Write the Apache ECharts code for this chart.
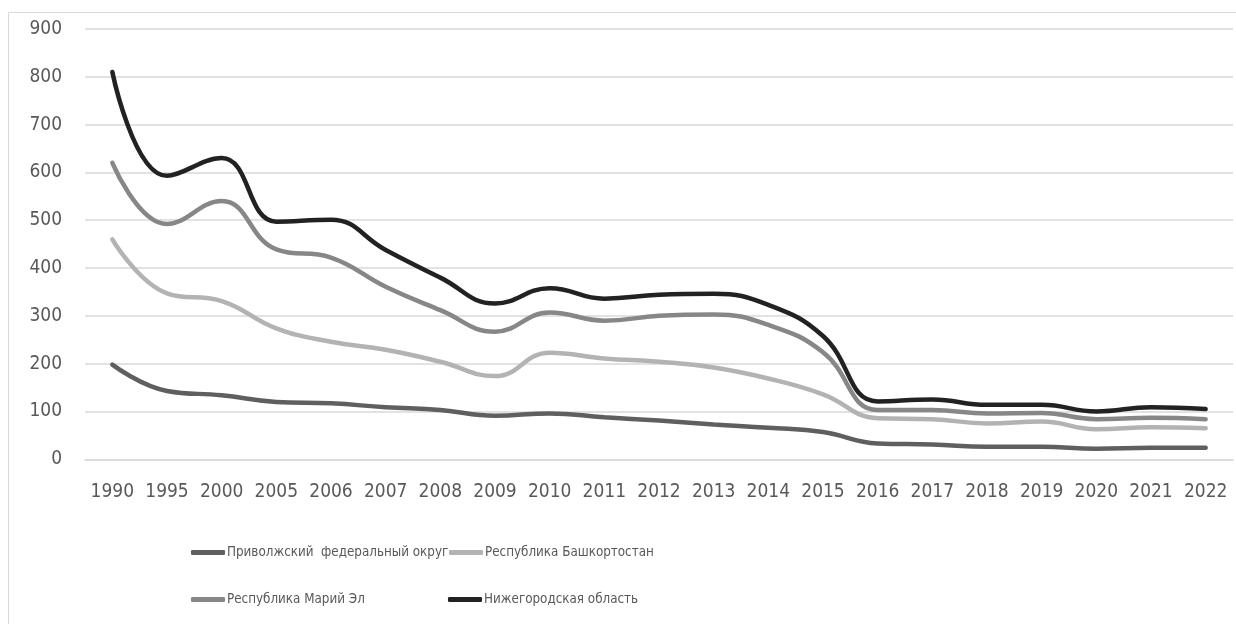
<!DOCTYPE html>
<html>
<head>
<meta charset="utf-8">
<script src="https://cdn.jsdelivr.net/npm/echarts@6/dist/echarts.min.js"></script>
<style>
  html, body { margin: 0; padding: 0; background: #fff; }
  #main { width: 1236px; height: 624px; }
</style>
</head>
<body>
<div id="main"></div>
<script>
// годы
var years = ['1990', '1995', '2000', '2005', '2006', '2007', '2008', '2009', '2010', '2011',
  '2012', '2013', '2014', '2015', '2016', '2017', '2018', '2019', '2020', '2021', '2022']
var yTicks = [0, 100, 200, 300, 400, 500, 600, 700, 800, 900]

var privolzhsky = [198, 143, 134, 120, 117, 109, 103, 91, 96, 88, 81, 73, 66, 57, 33, 31, 26, 26, 22, 24, 24]
var bashkortostan = [460, 347, 331, 274, 246, 229, 204, 174, 223, 211, 204, 192, 169, 136, 86, 84, 75, 79, 63, 67, 65]
var mariyEl = [620, 492, 540, 439, 422, 361, 312, 267, 307, 290, 300, 303, 281, 224, 103, 103, 96, 97, 84, 87, 84]
var nizhny = [810, 593, 630, 497, 501, 438, 380, 326, 358, 336, 344, 346, 323, 258, 121, 125, 114, 114, 100, 109, 105]

var names = ['Приволжский  федеральный округ', 'Республика Башкортостан', 'Республика Марий Эл', 'Нижегородская область']
var colors = ['#5f5f5f', '#b3b3b3', '#878787', '#222222']
var font = '"DejaVu Sans Condensed", "DejaVu Sans", sans-serif'

var mychart = echarts.init(document.getElementById('main'))

function line(name, data, color) {
  return {
    name: name,
    type: 'line',
    // сглаживание
    smooth: 0.45,
    showSymbol: false,
    data: data,
    lineStyle: { color: color, width: 4.5, cap: 'round' },
    itemStyle: { color: color },
    z: 3,
  }
}

// легенда в две строки, колонки выровнены
function legendAt(name, left, top) {
  return {
    data: [name],
    left: left,
    top: top,
    itemWidth: 34,
    itemHeight: 5,
    itemGap: 0,
    padding: 0,
    icon: 'roundRect',
    textStyle: { fontFamily: font, fontSize: 13.3, color: '#595959', padding: [0, 0, 0, -3] },
  }
}

var option = {
  animation: false,
  color: colors,
  textStyle: { fontFamily: font },
  graphic: [
    {
      type: 'rect',
      shape: { x: 8.5, y: 12.5, width: 1300, height: 700 },
      style: { fill: 'none', stroke: '#d9d9d9', lineWidth: 1 },
      silent: true,
    },
  ],
  legend: [
    legendAt(names[0], 191, 546),
    legendAt(names[1], 449, 546),
    legendAt(names[2], 191, 593),
    legendAt(names[3], 448, 593),
  ],
  grid: { left: 85, right: 3, top: 29, height: 430.3, containLabel: false },
  xAxis: {
    type: 'category',
    data: years,
    boundaryGap: true,
    axisLine: { show: true, lineStyle: { color: '#d9d9d9', width: 1.5 } },
    axisTick: { show: false },
    axisLabel: { color: '#595959', fontSize: 19, fontFamily: font, margin: 23, interval: 0 },
  },
  yAxis: {
    type: 'value',
    min: yTicks[0],
    max: yTicks[yTicks.length - 1],
    interval: 100,
    axisLine: { show: false },
    axisTick: { show: false },
    axisLabel: { color: '#595959', fontSize: 19, fontFamily: font, margin: 23 },
    splitLine: { lineStyle: { color: '#d9d9d9', width: 1.5 } },
  },
  series: [
    line(names[0], privolzhsky, colors[0]),
    line(names[1], bashkortostan, colors[1]),
    line(names[2], mariyEl, colors[2]),
    line(names[3], nizhny, colors[3]),
  ],
}

mychart.setOption(option)
</script>
</body>
</html>
